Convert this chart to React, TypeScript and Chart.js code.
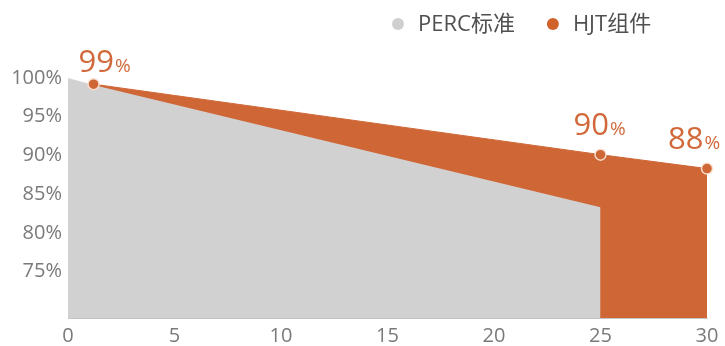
import React, { useEffect, useRef } from 'react';
import { Chart, registerables } from 'chart.js';

Chart.register(...registerables);

// ---- data ----
const seriesNames = ['PERC标准', 'HJT组件'];
const percYears = [0, 1.2, 25];
const percValues = [100, 99.1, 83.3];
const hjtYears = [1.2, 25, 30];
const hjtValues = [99.2, 90.1, 88.3];
const hjtLabels = ['99', '90', '88'];
const xTicks = [0, 5, 10, 15, 20, 25, 30];
const yTicks = [75, 80, 85, 90, 95, 100];

// ---- style ----
const GRAY = '#d2d1d2';
const ORANGE = '#cf6636';
const LABEL_ORANGE = '#d2693a';
const TICK_COLOR = '#7a7a7a';
const FONT = "'Open Sans', 'Noto Sans CJK SC', sans-serif";
const labelOffsets = [
  { dx: -15, dy: -12 },
  { dx: -27, dy: -20 },
  { dx: -39, dy: -20 },
];

const valueLabelPlugin = {
  id: 'valueLabels',
  afterDatasetsDraw(chart: any) {
    const meta = chart.getDatasetMeta(1);
    const ctx = chart.ctx;
    ctx.save();
    ctx.fillStyle = LABEL_ORANGE;
    ctx.textBaseline = 'alphabetic';
    ctx.textAlign = 'left';
    meta.data.forEach((pt: any, i: number) => {
      const off = labelOffsets[i];
      const x = pt.x + off.dx;
      const y = pt.y + off.dy;
      ctx.font = `400 31px ${FONT}`;
      const txt = hjtLabels[i];
      ctx.fillText(txt, x, y);
      const w = ctx.measureText(txt).width;
      ctx.font = `400 19px ${FONT}`;
      ctx.fillText('%', x + w + 1, y);
    });
    ctx.restore();
  },
};

const customLegendPlugin = {
  id: 'customLegend',
  afterDraw(chart: any) {
    const ctx = chart.ctx;
    const ds = chart.data.datasets;
    ctx.save();
    ctx.font = `400 22px ${FONT}`;
    ctx.textBaseline = 'middle';
    ctx.textAlign = 'left';
    const cy = 24;
    const r = 6;
    const gapText = 20;
    const gapItem = 38;
    let x = 398;
    ds.forEach((d: any) => {
      ctx.fillStyle = d.legendColor;
      ctx.beginPath();
      ctx.arc(x, cy, r, 0, Math.PI * 2);
      ctx.fill();
      ctx.fillStyle = '#505050';
      ctx.fillText(d.label, x + gapText, cy + 1);
      x += gapText + ctx.measureText(d.label).width + gapItem;
    });
    ctx.restore();
  },
};

export default function App() {
  const ref = useRef<HTMLCanvasElement>(null);
  useEffect(() => {
    if (!ref.current) return;
    const chart = new Chart(ref.current, {
      type: 'line',
      data: {
        datasets: [
          {
            label: seriesNames[0],
            data: percYears.map((x, i) => ({ x, y: percValues[i] })),
            backgroundColor: GRAY,
            borderWidth: 0,
            pointRadius: 0,
            fill: 'start',
            tension: 0,
            clip: false as any,
            legendColor: '#cfcfcf',
          } as any,
          {
            label: seriesNames[1],
            data: hjtYears.map((x, i) => ({ x, y: hjtValues[i] })),
            backgroundColor: ORANGE,
            borderColor: ORANGE,
            borderWidth: 1,
            pointRadius: 5.5,
            pointBackgroundColor: ORANGE,
            pointBorderColor: 'rgba(250,225,210,0.95)',
            pointBorderWidth: 1.5,
            fill: 'start',
            tension: 0,
            clip: false as any,
            legendColor: '#d0622c',
          } as any,
        ],
      },
      options: {
        animation: false,
        responsive: false,
        events: [],
        layout: { padding: { top: 78, right: 18, left: 8, bottom: 0 } },
        plugins: {
          legend: { display: false },
          tooltip: { enabled: false },
          filler: { drawTime: 'beforeDatasetsDraw' } as any,
        },
        scales: {
          x: {
            type: 'linear',
            min: 0,
            max: 30,
            grid: { display: false, drawTicks: false },
            border: { display: true, color: '#c4c4c4', width: 1 },
            afterBuildTicks: (s: any) => {
              s.ticks = xTicks.map((v) => ({ value: v }));
            },
            afterFit: (s: any) => {
              s.height = 28;
            },
            ticks: {
              color: TICK_COLOR,
              font: { family: FONT, size: 20 },
              padding: 6,
              maxRotation: 0,
              autoSkip: false,
            },
          },
          y: {
            type: 'linear',
            min: 69,
            max: 100,
            grid: { display: false, drawTicks: false },
            border: { display: false },
            afterBuildTicks: (s: any) => {
              s.ticks = yTicks.map((v) => ({ value: v }));
            },
            afterFit: (s: any) => {
              s.width = 60;
            },
            ticks: {
              color: TICK_COLOR,
              font: { family: FONT, size: 20 },
              padding: 6,
              callback: (v: any) => `${v}%`,
            },
          },
        },
      },
      plugins: [valueLabelPlugin, customLegendPlugin],
    });
    return () => chart.destroy();
  }, []);
  return (
    <div style={{ position: 'fixed', left: 0, top: 0, width: 725, height: 346, background: '#fff' }}>
      <canvas ref={ref} width={725} height={346} style={{ display: 'block' }} />
    </div>
  );
}
